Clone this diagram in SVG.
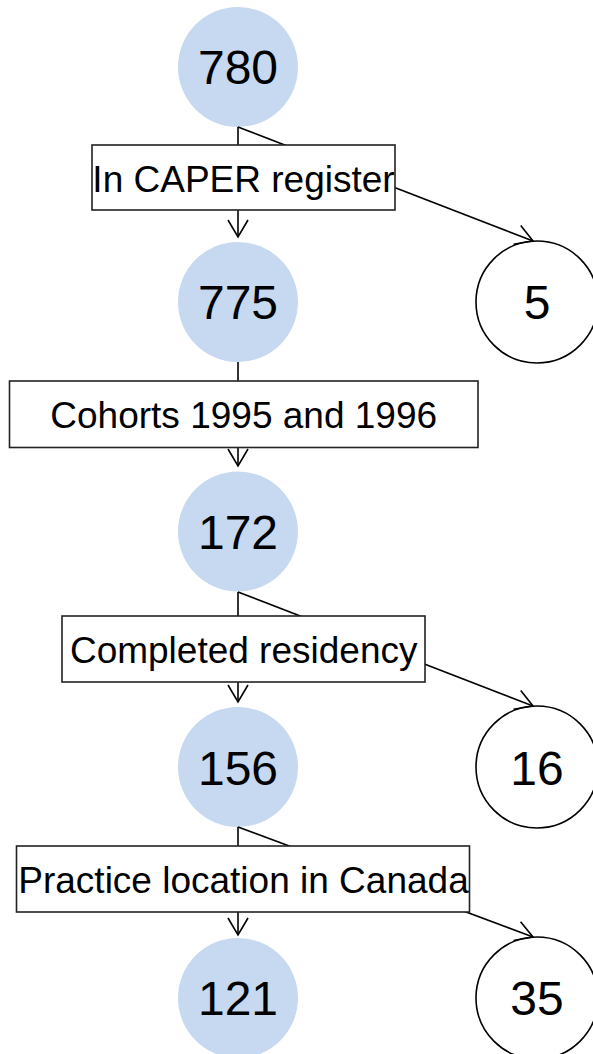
<svg xmlns="http://www.w3.org/2000/svg" width="593" height="1054" viewBox="0 0 593 1054">
<style>
.flow{fill:#c6d9f0;stroke:none}
.excl{fill:#ffffff;stroke:#000;stroke-width:1.6}
.box{fill:#ffffff;stroke:#222;stroke-width:1.6}
.num{font-family:"Liberation Sans",Arial,sans-serif;font-size:48px;fill:#000;text-anchor:middle}
.lbl{font-family:"Liberation Sans",Arial,sans-serif;font-size:37px;fill:#000;text-anchor:middle}
.conn{fill:none;stroke:#000;stroke-width:1.6;marker-end:url(#arr)}
</style>
<defs>
<marker id="arr" markerUnits="userSpaceOnUse" viewBox="-19 -12 20 24" markerWidth="20" markerHeight="24" refX="0" refY="0" orient="auto" overflow="visible">
<path d="M-17,-10 L0,0 L-17,10" fill="none" stroke="#000" stroke-width="1.6"/>
</marker>
</defs>
<g id="n780"><circle class="flow" cx="238" cy="67" r="60"/><text class="num" x="238" y="84">780</text></g>
<g id="n775"><circle class="flow" cx="238" cy="302" r="60"/><text class="num" x="238" y="319">775</text></g>
<g id="n5"><circle class="excl" cx="537" cy="302" r="61"/><text class="num" x="537" y="319">5</text></g>
<g id="n172"><circle class="flow" cx="238" cy="531.5" r="60"/><text class="num" x="238" y="549">172</text></g>
<g id="n156"><circle class="flow" cx="238" cy="767" r="60"/><text class="num" x="238" y="784.5">156</text></g>
<g id="n16"><circle class="excl" cx="537" cy="767" r="61"/><text class="num" x="537" y="784.5">16</text></g>
<g id="n121"><circle class="flow" cx="238" cy="998" r="60"/><text class="num" x="238" y="1015">121</text></g>
<g id="n35"><circle class="excl" cx="537" cy="998" r="61"/><text class="num" x="537" y="1015">35</text></g>
<g id="connectors">
<line class="conn" x1="238" y1="127" x2="238" y2="237"/>
<line class="conn" x1="238" y1="127" x2="533" y2="241"/>
<line class="conn" x1="238" y1="362" x2="238" y2="466"/>
<line class="conn" x1="238" y1="592" x2="238" y2="702"/>
<line class="conn" x1="238" y1="592" x2="533" y2="706"/>
<line class="conn" x1="238" y1="827" x2="238" y2="935"/>
<line class="conn" x1="238" y1="827" x2="533" y2="937"/>
</g>
<g id="box1"><rect class="box" x="92" y="145" width="303" height="65"/><text class="lbl" x="243.5" y="192">In CAPER register</text></g>
<g id="box2"><rect class="box" x="9.5" y="381" width="468.5" height="66.5"/><text class="lbl" x="243.7" y="428">Cohorts 1995 and 1996</text></g>
<g id="box3"><rect class="box" x="62" y="616" width="363" height="66"/><text class="lbl" x="243.7" y="663">Completed residency</text></g>
<g id="box4"><rect class="box" x="16.5" y="846" width="453" height="66"/><text class="lbl" x="243.5" y="893">Practice location in Canada</text></g>
</svg>
